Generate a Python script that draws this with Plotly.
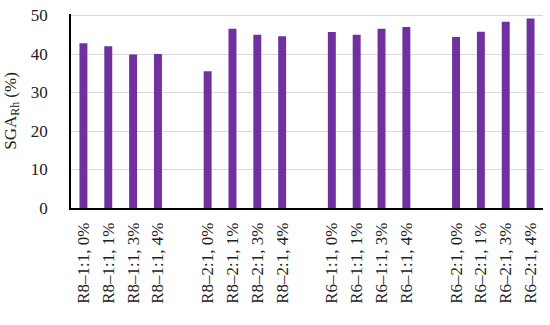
import plotly.graph_objects as go

# Sample labels per group, blank strings separate the groups
groups = ["R8–1:1", "R8–2:1", "R6–1:1", "R6–2:1"]
loadings = ["0%", "1%", "3%", "4%"]

sga_r8_11 = [42.8, 42.0, 39.9, 40.0]
sga_r8_21 = [35.5, 46.6, 45.0, 44.6]
sga_r6_11 = [45.7, 45.0, 46.6, 47.0]
sga_r6_21 = [44.4, 45.8, 48.4, 49.2]

y_ticks = [0, 10, 20, 30, 40, 50]

series = [sga_r8_11, sga_r8_21, sga_r6_11, sga_r6_21]

categories = []
values = []
labelled = []
for i, (grp, vals) in enumerate(zip(groups, series)):
    if i > 0:
        # spacer category (unique blank label) between groups
        categories.append(" " * i)
        values.append(None)
    for load, v in zip(loadings, vals):
        categories.append(f"{grp}, {load}")
        labelled.append(f"{grp}, {load}")
        values.append(v)

font_family = "Liberation Serif, DejaVu Serif, serif"
grid_color = "#d9d9d9"

fig = go.Figure(
    go.Bar(
        x=categories,
        y=values,
        marker=dict(color="#7030A0", line=dict(width=0)),
        width=0.32,
    )
)

fig.update_layout(
    width=550,
    height=325,
    margin=dict(l=71, r=7, t=14, b=117),
    plot_bgcolor="white",
    paper_bgcolor="white",
    showlegend=False,
    font=dict(family=font_family, size=16, color="#222222"),
)

fig.update_xaxes(
    type="category",
    categoryorder="array",
    categoryarray=categories,
    tickvals=labelled,
    tickangle=-90,
    showline=True,
    linecolor="black",
    linewidth=1.5,
    showgrid=False,
    ticks="",
    automargin=False,
    ticklabelstandoff=6,
    tickfont=dict(size=17),
)

fig.update_yaxes(
    range=[0, 50.4],
    tickvals=y_ticks,
    showline=True,
    linecolor="black",
    linewidth=1.5,
    showgrid=True,
    gridcolor=grid_color,
    gridwidth=1,
    zeroline=False,
    ticks="",
    automargin=False,
    ticklabeloverflow="allow",
    ticklabelstandoff=18,
    tickfont=dict(size=17),
    title=dict(text="SGA<sub>Rh</sub> (%)", font=dict(size=17), standoff=10),
)

# plotly drops the grid line right at the top edge, draw it explicitly
fig.add_hline(y=y_ticks[-1], line=dict(color=grid_color, width=1), layer="below")

# drop the default body margin so the figure sits at the page corner
fig.write_html(
    "out.html",
    config={"displayModeBar": False},
    post_script="document.body.style.margin = '0';",
)
